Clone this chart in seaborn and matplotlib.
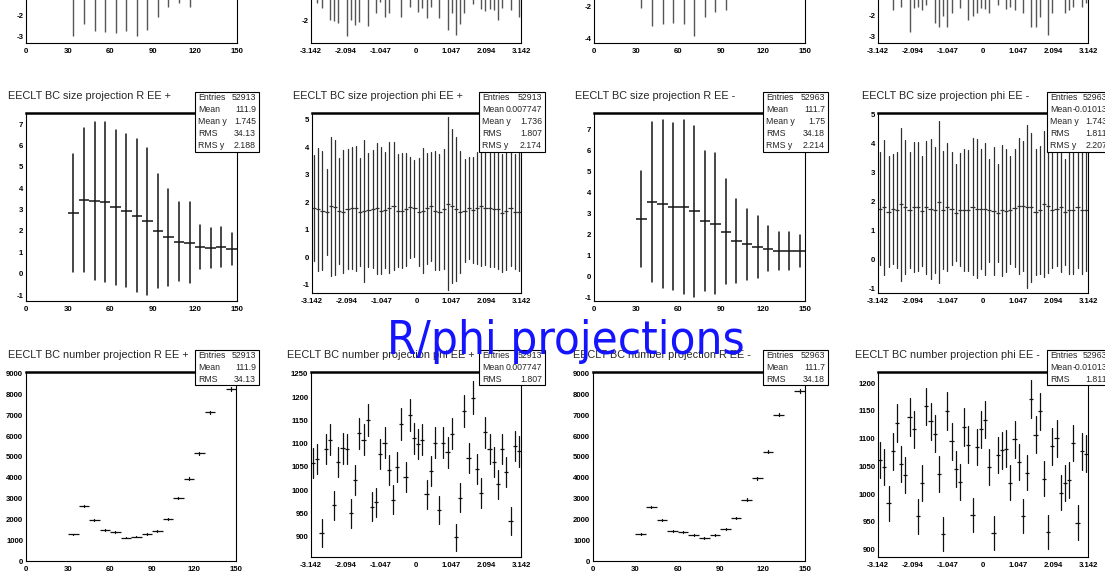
import numpy as np
import pandas as pd
import seaborn as sns
import matplotlib
matplotlib.use("Agg")
import matplotlib.pyplot as plt
from matplotlib import font_manager
from matplotlib.patches import Rectangle

W, H = 1105, 574

sns.set_style("white")
plt.rcParams["font.family"] = ["Liberation Sans", "DejaVu Sans"]

# ---------------- data ----------------
R_CENTERS = [33.75, 41.25, 48.75, 56.25, 63.75, 71.25, 78.75, 86.25,
             93.75, 101.25, 108.75, 116.25, 123.75, 131.25, 138.75, 146.25]
R_HALF = 3.75
PHI_EDGES = np.linspace(-np.pi, np.pi, 51)
PHI_CENTERS = 0.5 * (PHI_EDGES[:-1] + PHI_EDGES[1:])
PHI_HALF = np.pi / 50

# top row (cropped): only the lower ends of the bars are visible
TOP_R_EEP_LO = [-3.0, -2.43, -2.76, -2.81, -2.86, -2.76, -3.0, -2.71,
                -2.08, -1.63, -1.41, -1.6, -1.1, -0.9, -0.95, -0.7]
TOP_PHI_EEP_LO = [-1.1, -1.36, -1.57, -1.15, -2.0, -2.02, -2.12, -1.2, -2.59, -1.98,
                  -2.19, -2.06, -1.2, -2.22, -1.1, -1.73, -1.32, -1.9, -1.75, -1.15,
                  -1.2, -1.88, -1.1, -1.53, -1.2, -1.69, -1.57, -1.94, -1.51, -1.2,
                  -1.94, -1.15, -2.37, -1.75, -2.56, -2.15, -1.73, -1.2, -1.41, -1.1,
                  -1.6, -1.67, -1.59, -1.63, -2.0, -1.57, -1.2, -1.63, -1.1, -1.9]
TOP_R_EEM_LO = [-2.15, -3.25, -3.13, -3.08, -3.13, -3.88, -2.67, -2.35,
                -2.25, -1.5, -1.2, -1.1, -0.8, -0.6, -0.6, -0.5]
TOP_PHI_EEM_LO = [-1.2, -1.25, -1.2, -1.76, -1.2, -1.63, -1.2, -2.79, -1.68, -1.63,
                  -1.76, -1.52, -1.2, -2.4, -2.56, -2.05, -2.56, -1.89, -1.2, -1.68,
                  -1.25, -2.24, -2.05, -1.92, -1.68, -1.73, -1.92, -1.2, -1.52, -1.2,
                  -1.73, -1.63, -1.76, -1.2, -1.89, -1.2, -2.56, -2.56, -2.08, -1.25,
                  -2.95, -1.89, -1.2, -1.25, -1.89, -1.76, -1.63, -1.2, -1.6, -1.44]

# BC size profiles: mean and spread (RMS) per bin
SIZE_R_EEP_MEAN = [2.85, 3.45, 3.40, 3.35, 3.10, 2.95, 2.70, 2.45,
                   2.00, 1.70, 1.50, 1.45, 1.25, 1.20, 1.25, 1.15]
SIZE_R_EEP_RMS = [2.75, 3.35, 3.70, 3.75, 3.62, 3.58, 3.58, 3.43,
                  2.67, 2.27, 1.85, 1.90, 1.04, 0.95, 0.93, 0.76]
SIZE_R_EEM_MEAN = [2.74, 3.54, 3.43, 3.31, 3.31, 3.09, 2.63, 2.49,
                   2.12, 1.67, 1.51, 1.40, 1.31, 1.20, 1.20, 1.20]
SIZE_R_EEM_RMS = [2.29, 3.82, 4.00, 3.98, 4.15, 4.07, 3.33, 3.36,
                  2.52, 1.99, 1.68, 1.47, 1.08, 0.90, 0.90, 0.77]
SIZE_PHI_EEP_MEAN = [1.80, 1.75, 1.70, 1.65, 1.85, 1.82, 1.70, 1.65, 1.75, 1.80,
                     1.78, 1.65, 1.68, 1.72, 1.75, 1.78, 1.70, 1.72, 1.80, 1.85,
                     1.70, 1.70, 1.75, 1.82, 1.78, 1.65, 1.70, 1.78, 1.85, 1.70,
                     1.65, 1.75, 1.95, 1.85, 1.75, 1.65, 1.70, 1.78, 1.72, 1.80,
                     1.85, 1.78, 1.78, 1.75, 1.75, 1.62, 1.70, 1.80, 1.65, 1.65]
SIZE_PHI_EEP_RMS = [1.92, 2.24, 2.18, 1.57, 2.54, 2.45, 1.93, 2.24, 2.18, 2.23,
                    2.27, 1.98, 2.59, 2.06, 2.14, 2.39, 2.32, 2.11, 2.39, 2.33,
                    2.05, 2.09, 2.06, 1.84, 1.76, 1.95, 2.27, 2.02, 1.98, 2.18,
                    2.12, 2.18, 3.15, 2.80, 2.61, 2.21, 1.86, 1.86, 1.92, 2.03,
                    2.15, 2.06, 2.12, 2.12, 2.18, 2.15, 2.15, 2.12, 2.09, 2.15]
SIZE_PHI_EEM_MEAN = [1.75, 1.80, 1.65, 1.75, 1.72, 1.90, 1.80, 1.70, 1.82, 1.82,
                     1.68, 1.80, 1.75, 1.72, 1.98, 1.70, 1.80, 1.75, 1.62, 1.72,
                     1.72, 1.70, 1.82, 1.75, 1.75, 1.75, 1.70, 1.68, 1.62, 1.70,
                     1.68, 1.70, 1.78, 1.85, 1.85, 1.82, 1.80, 1.65, 1.72, 1.92,
                     1.85, 1.70, 1.75, 1.80, 1.65, 1.70, 1.72, 1.80, 1.72, 1.70]
SIZE_PHI_EEM_RMS = [1.95, 2.33, 1.92, 1.89, 2.00, 2.64, 2.31, 1.99, 2.23, 2.22,
                    1.89, 2.28, 2.42, 2.17, 2.79, 2.03, 2.20, 1.94, 1.66, 1.95,
                    2.10, 2.08, 2.36, 2.39, 2.07, 2.28, 1.78, 2.20, 1.69, 2.25,
                    2.12, 1.86, 2.03, 2.33, 2.25, 2.80, 2.56, 2.17, 2.20, 2.51,
                    2.31, 2.00, 1.98, 2.22, 1.83, 2.20, 2.22, 2.08, 2.23, 2.08]

# BC number histograms (counts per bin)
NUM_R_EEP = [1280, 2640, 1950, 1490, 1390, 1120, 1170, 1290,
             1450, 2010, 3040, 3960, 5180, 7140, 8640, 8260]
NUM_R_EEM = [1290, 2580, 1970, 1450, 1400, 1240, 1100, 1240,
             1550, 2070, 2950, 3970, 5260, 7030, 8650, 8160]
NUM_PHI_EEP = [1058, 1067, 908, 1088, 1108, 967, 1060, 1090, 1088, 950,
               1021, 1122, 1108, 1151, 964, 974, 1078, 1102, 1044, 979,
               1050, 1142, 1028, 1161, 1112, 1099, 1108, 991, 1040, 1102,
               957, 1102, 1081, 1121, 898, 984, 1170, 1069, 1199, 1045,
               994, 1124, 1088, 1060, 1012, 1088, 1038, 934, 1095, 1083]
NUM_PHI_EEM = [1061, 1049, 984, 1077, 1128, 1054, 1034, 1139, 1117, 960,
               1020, 1158, 1131, 1109, 1036, 929, 1150, 1095, 1045, 1022,
               1121, 1089, 963, 1085, 1117, 1134, 1049, 930, 1071, 1079,
               1082, 1021, 1099, 1058, 961, 1039, 1171, 1107, 1149, 1028,
               932, 1086, 1101, 1003, 1020, 1026, 1092, 949, 1077, 1073]

TITLES_SIZE = ["EECLT BC size projection R EE +", "EECLT BC size projection phi EE +",
               "EECLT BC size projection R EE -", "EECLT BC size projection phi EE -"]
TITLES_NUM = ["EECLT BC number projection R EE +", "EECLT BC number projection phi EE +",
              "EECLT BC number projection R EE -", "EECLT BC number projection phi EE -"]

STATS_SIZE = [
    [("Entries", "52913"), ("Mean", "111.9"), ("Mean y", "1.745"), ("RMS", "34.13"), ("RMS y", "2.188")],
    [("Entries", "52913"), ("Mean", "0.007747"), ("Mean y", "1.736"), ("RMS", "1.807"), ("RMS y", "2.174")],
    [("Entries", "52963"), ("Mean", "111.7"), ("Mean y", "1.75"), ("RMS", "34.18"), ("RMS y", "2.214")],
    [("Entries", "52963"), ("Mean", "-0.01013"), ("Mean y", "1.743"), ("RMS", "1.811"), ("RMS y", "2.207")],
]
STATS_NUM = [
    [("Entries", "52913"), ("Mean", "111.9"), ("RMS", "34.13")],
    [("Entries", "52913"), ("Mean", "0.007747"), ("RMS", "1.807")],
    [("Entries", "52963"), ("Mean", "111.7"), ("RMS", "34.18")],
    [("Entries", "52963"), ("Mean", "-0.01013"), ("RMS", "1.811")],
]

R_MAJOR = [0, 30, 60, 90, 120, 150]
PHI_MAJOR = [-np.pi, -2 * np.pi / 3, -np.pi / 3, 0, np.pi / 3, 2 * np.pi / 3, np.pi]
PHI_LABELS = ["-3.142", "-2.094", "-1.047", "0", "1.047", "2.094", "3.142"]

TICKFONT = dict(fontsize=5.6, fontweight="bold")

fig = plt.figure(figsize=(W / 100, H / 100), dpi=100)
fig.patch.set_facecolor("white")


def px_axes(left, right, top, bottom):
    return fig.add_axes([left / W, 1 - bottom / H, (right - left) / W, (bottom - top) / H])


def style(ax, kind, ylim, ymajor, yminor_step, shown=None):
    if kind == "R":
        ax.set_xlim(0, 150)
        ax.set_xticks(R_MAJOR, labels=[str(v) for v in R_MAJOR], **TICKFONT)
        ax.set_xticks(np.arange(0, 151, 3), minor=True)
    else:
        ax.set_xlim(-np.pi, np.pi)
        ax.set_xticks(PHI_MAJOR, labels=PHI_LABELS, **TICKFONT)
        ax.set_xticks(np.arange(-30, 31) * np.pi / 30, minor=True)
    labels = [str(v) if (shown is None or v in shown) else "" for v in ymajor]
    ax.set_yticks(ymajor, labels=labels, **TICKFONT)
    ax.set_yticks(np.arange(ymajor[0] - 25 * yminor_step, ymajor[-1] + 25 * yminor_step, yminor_step), minor=True)
    ax.set_ylim(*ylim)
    ax.set_xlabel("")
    ax.set_ylabel("")
    ax.set_facecolor("white")
    for s in ax.spines.values():
        s.set_linewidth(0.8)
        s.set_color("black")
    ax.spines["top"].set_linewidth(1.8)
    ax.tick_params(which="both", direction="in", top=False, right=False, width=0.6, colors="black")
    ax.tick_params(axis="x", pad=3.5)
    ax.tick_params(axis="y", pad=2)
    ax.tick_params(which="major", length=5)
    ax.tick_params(which="minor", length=2.5)


def draw_bins(ax, x, center, err, half, color, lw):
    x = np.asarray(x, dtype=float)
    center = np.asarray(center, dtype=float)
    err = np.asarray(err, dtype=float)
    df = pd.DataFrame({"x": np.concatenate([x, x]),
                       "y": np.concatenate([center - err, center + err])})
    sns.lineplot(data=df, x="x", y="y", estimator="mean", errorbar=("pi", 100),
                 err_style="bars", linestyle="none", color=color, ax=ax,
                 err_kws={"elinewidth": lw, "capsize": 0})
    ax.hlines(center, x - half, x + half, colors=color, lw=lw)


def stats_box(x0, x1, y0, y1, rows):
    fig.add_artist(Rectangle((x0 / W, 1 - y1 / H), (x1 - x0) / W, (y1 - y0) / H,
                             transform=fig.transFigure, facecolor="white",
                             edgecolor="black", lw=0.8, zorder=5))
    step = (y1 - y0) / len(rows)
    for i, (k, v) in enumerate(rows):
        yc = y0 + step * (i + 0.5)
        fig.text((x0 + 3) / W, 1 - yc / H, k, ha="left", va="center", fontsize=6.3, zorder=6)
        fig.text((x1 - 3) / W, 1 - yc / H, v, ha="right", va="center", fontsize=6.3, zorder=6)


# ---------------- top row (cropped) ----------------
top_frames = [(26, 237, -145, 43), (311, 521, -137, 43), (594, 805, -145, 43), (878, 1088, -137, 43)]
top_spec = [
    ("R", R_CENTERS, TOP_R_EEP_LO, (-3.33, 5.62), list(range(-3, 6)), 0.2, [-3, -2]),
    ("phi", PHI_CENTERS, TOP_PHI_EEP_LO, (-2.85, 3.82), list(range(-2, 4)), 0.2, [-2]),
    ("R", R_CENTERS, TOP_R_EEM_LO, (-4.31, 7.44), list(range(-4, 8, 2)), 0.5, [-4, -2]),
    ("phi", PHI_CENTERS, TOP_PHI_EEM_LO, (-3.33, 5.24), list(range(-3, 6)), 0.2, [-3, -2]),
]
for fr, (kind, xs, lo, ylim, ymaj, ymin, shown) in zip(top_frames, top_spec):
    ax = px_axes(*fr)
    ax.vlines(xs, lo, ylim[1], colors="#555555", lw=1.0)
    style(ax, kind, ylim, ymaj, ymin, shown)

# ---------------- size profiles ----------------
size_frames = [(26, 237, 113, 301), (312, 521, 113, 293), (594, 805, 113, 301), (878, 1088, 113, 293)]
size_spec = [
    ("R", R_CENTERS, SIZE_R_EEP_MEAN, SIZE_R_EEP_RMS, (-1.28, 7.52)),
    ("phi", PHI_CENTERS, SIZE_PHI_EEP_MEAN, SIZE_PHI_EEP_RMS, (-1.3, 5.25)),
    ("R", R_CENTERS, SIZE_R_EEM_MEAN, SIZE_R_EEM_RMS, (-1.19, 7.78)),
    ("phi", PHI_CENTERS, SIZE_PHI_EEM_MEAN, SIZE_PHI_EEM_RMS, (-1.15, 5.05)),
]
for fr, (kind, xs, mean, rms, ylim) in zip(size_frames, size_spec):
    ax = px_axes(*fr)
    if kind == "R":
        draw_bins(ax, xs, mean, rms, R_HALF, "#151515", 1.1)
        ymaj = list(range(-1, 8))
    else:
        draw_bins(ax, xs, mean, rms, PHI_HALF, "#303030", 0.9)
        ymaj = list(range(-1, 6))
    style(ax, kind, ylim, ymaj, 0.2)

# ---------------- number histograms ----------------
num_frames = [(26, 236, 372, 561), (311, 521, 372, 557), (593, 805, 372, 561), (878, 1088, 372, 557)]
num_spec = [
    ("R", R_CENTERS, NUM_R_EEP, (0, 9080), list(range(0, 9001, 1000)), 200),
    ("phi", PHI_CENTERS, NUM_PHI_EEP, (856, 1254), list(range(900, 1251, 50)), 10),
    ("R", R_CENTERS, NUM_R_EEM, (0, 9080), list(range(0, 9001, 1000)), 200),
    ("phi", PHI_CENTERS, NUM_PHI_EEM, (887, 1220), list(range(900, 1201, 50)), 10),
]
for fr, (kind, xs, counts, ylim, ymaj, ymin) in zip(num_frames, num_spec):
    ax = px_axes(*fr)
    counts = np.asarray(counts, dtype=float)
    half = R_HALF if kind == "R" else PHI_HALF
    draw_bins(ax, xs, counts, np.sqrt(counts), half, "#101010", 0.9)
    style(ax, kind, ylim, ymaj, ymin)

# ---------------- titles and stats boxes ----------------
title_x_size = [8, 293, 575, 862]
title_x_num = [8, 287, 573, 855]
for x, t in zip(title_x_size, TITLES_SIZE):
    fig.text(x / W, 1 - 96 / H, t, ha="left", va="center", fontsize=7.8, zorder=1)
for x, t in zip(title_x_num, TITLES_NUM):
    fig.text(x / W, 1 - 355 / H, t, ha="left", va="center", fontsize=7.8, zorder=1)

box_x = [(195, 259), (479, 545), (763, 828), (1047, 1110)]
for (x0, x1), rows in zip(box_x, STATS_SIZE):
    stats_box(x0, x1, 92, 152, rows)
for (x0, x1), rows in zip(box_x, STATS_NUM):
    stats_box(x0, x1, 350, 385, rows)

# overlay label: a condensed face matches the slide font better if it is installed
condensed = any(f.name == "DejaVu Sans" and f.stretch == "condensed"
                for f in font_manager.fontManager.ttflist)
big_kw = dict(fontstretch="condensed", fontsize=34) if condensed else dict(fontsize=31)
fig.text(566 / W, 1 - 354 / H, "R/phi projections", ha="center", va="baseline",
         color="#1414ff", family="DejaVu Sans", zorder=10, **big_kw)

fig.savefig("out.png", dpi=100, facecolor="white")
